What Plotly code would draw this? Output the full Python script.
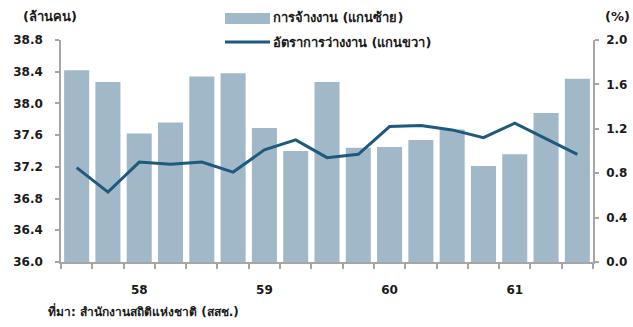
import plotly.graph_objects as go

# Quarterly series, Q4/2557 through Q4/2561 (Thai Buddhist-era years)
quarters = ["4/57", "1/58", "2/58", "3/58", "4/58", "1/59", "2/59", "3/59", "4/59",
            "1/60", "2/60", "3/60", "4/60", "1/61", "2/61", "3/61", "4/61"]
employed = [38.42, 38.27, 37.62, 37.76, 38.34, 38.38, 37.69, 37.40, 38.27,
            37.44, 37.45, 37.54, 37.67, 37.21, 37.36, 37.88, 38.31]
unemployment = [0.85, 0.63, 0.90, 0.88, 0.90, 0.81, 1.01, 1.10, 0.94,
                0.97, 1.22, 1.23, 1.19, 1.12, 1.25, 1.11, 0.97]
year_labels = ["58", "59", "60", "61"]
year_label_quarters = ["2/58", "2/59", "2/60", "2/61"]

bar_name = "การจ้างงาน (แกนซ้าย)"
line_name = "อัตราการว่างงาน (แกนขวา)"
left_unit = "(ล้านคน)"
right_unit = "(%)"
source = "ที่มา: สำนักงานสถิติแห่งชาติ (สสช.)"

BAR = "#a1b8c8"
LINE = "#1d5a7c"
AXIS = "#a6a6a6"
TEXT = "#1a1a1a"
FONT = "Tahoma, 'DejaVu Sans', 'Noto Sans', sans-serif"

xs = list(range(len(quarters)))
year_pos = [quarters.index(q) for q in year_label_quarters]

fig = go.Figure()
fig.add_trace(go.Bar(x=xs, y=employed, name=bar_name, marker_color=BAR,
                     marker_line_width=0, yaxis="y", showlegend=False))
fig.add_trace(go.Scatter(x=xs, y=unemployment, name=line_name, mode="lines",
                         line=dict(color=LINE, width=3), yaxis="y2", showlegend=False))

tick_font = dict(family=FONT, size=12, color=TEXT, weight="bold")

fig.update_layout(
    width=633, height=327,
    margin=dict(l=61, r=40, t=40, b=65, autoexpand=False),
    paper_bgcolor="white", plot_bgcolor="white",
    bargap=0.2,
    font=dict(family=FONT, color=TEXT),
    xaxis=dict(
        range=[-0.5, len(quarters) - 0.5], automargin=False,
        tickvals=year_pos, ticktext=year_labels,
        ticks="", showgrid=False, zeroline=False,
        showline=True, linecolor=AXIS, linewidth=1.5,
        tickfont=dict(family=FONT, size=12, color=TEXT, weight="bold"),
        ticklabelstandoff=16,
        minor=dict(tick0=-0.5, dtick=1, ticks="outside", ticklen=5,
                   tickcolor=AXIS, tickwidth=1.5, showgrid=False),
    ),
    yaxis=dict(
        range=[36.0, 38.8], dtick=0.4, tick0=36.0, tickformat=".1f",
        automargin=False,
        showgrid=False, zeroline=False,
        showline=True, linecolor=AXIS, linewidth=1.5,
        ticks="outside", ticklen=4, tickcolor=AXIS, tickwidth=1.5,
        tickfont=tick_font, ticklabelstandoff=10,
    ),
    yaxis2=dict(
        range=[0.0, 2.0], dtick=0.4, tick0=0.0, tickformat=".1f",
        overlaying="y", side="right", automargin=False,
        showgrid=False, zeroline=False,
        showline=True, linecolor=AXIS, linewidth=1.5,
        ticks="outside", ticklen=4, tickcolor=AXIS, tickwidth=1.5,
        tickfont=tick_font, ticklabelstandoff=5,
    ),
)

# Legend drawn as swatches plus labels
legend_x0, legend_x1 = 225, 270
fig.add_shape(type="rect", xref="paper", yref="paper",
              x0=(legend_x0 - 61) / 532, x1=(legend_x1 - 61) / 532,
              y0=(262 - 24) / 222, y1=(262 - 13) / 222,
              fillcolor=BAR, line_width=0)
fig.add_shape(type="line", xref="paper", yref="paper",
              x0=(legend_x0 - 61) / 532, x1=(legend_x1 - 61) / 532,
              y0=(262 - 42) / 222, y1=(262 - 42) / 222,
              line=dict(color=LINE, width=3))
for label, py in [(bar_name, 18), (line_name, 42)]:
    fig.add_annotation(text="<b>" + label + "</b>", xref="paper", yref="paper",
                       x=(271 - 61) / 532, y=(262 - py) / 222,
                       xanchor="left", yanchor="middle", showarrow=False,
                       font=dict(family=FONT, size=13, color=TEXT))

fig.add_annotation(text="<b>" + left_unit + "</b>", xref="paper", yref="paper",
                   x=(21 - 61) / 532, y=(262 - 17) / 222,
                   xanchor="left", yanchor="middle", showarrow=False,
                   font=dict(family=FONT, size=13, color=TEXT))
fig.add_annotation(text="<b>" + right_unit + "</b>", xref="paper", yref="paper",
                   x=(603 - 61) / 532, y=(262 - 17) / 222,
                   xanchor="left", yanchor="middle", showarrow=False,
                   font=dict(family=FONT, size=13, color=TEXT))
fig.add_annotation(text="<b>" + source + "</b>", xref="paper", yref="paper",
                   x=(46 - 61) / 532, y=(262 - 311) / 222,
                   xanchor="left", yanchor="middle", showarrow=False,
                   font=dict(family=FONT, size=12, color=TEXT))

fig.write_html("out.html")
